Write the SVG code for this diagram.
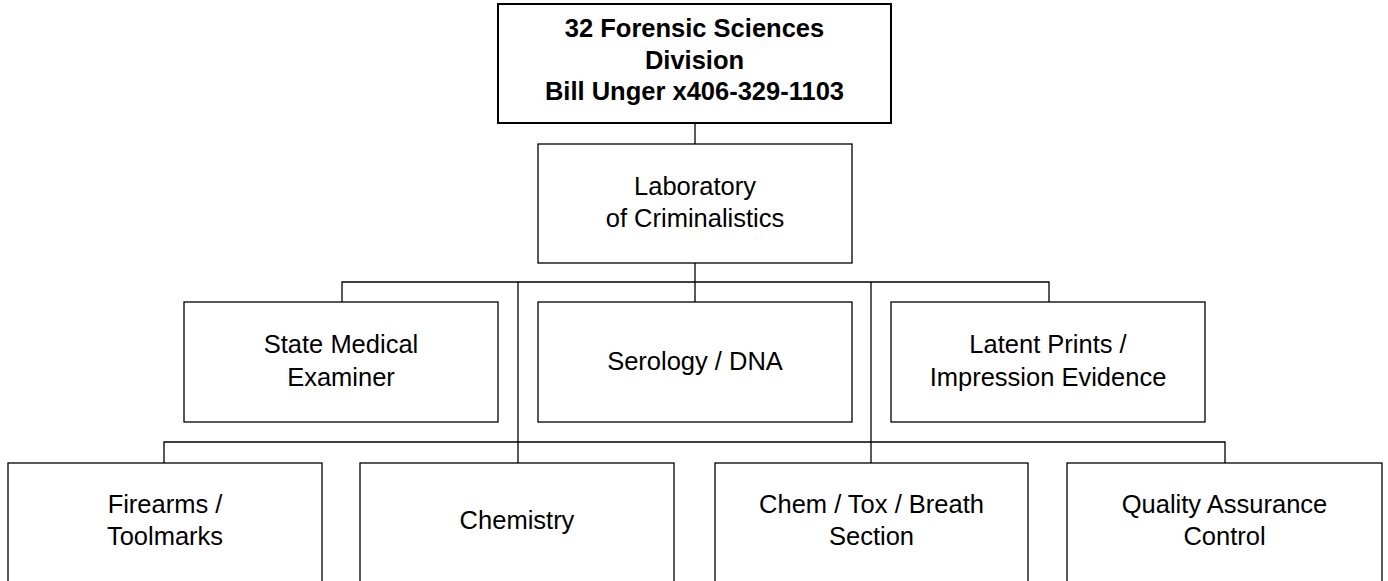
<svg xmlns="http://www.w3.org/2000/svg" width="1388" height="581" viewBox="0 0 1388 581">
<style>
.box{fill:#fff;stroke:#000;stroke-width:1.3}
.top{fill:#fff;stroke:#000;stroke-width:2}
.t{font-family:"Liberation Sans",Arial,sans-serif;font-size:25.5px;fill:#000;text-anchor:middle}
.b{font-weight:bold}
.c{fill:none;stroke:#000;stroke-width:1.3}
</style>
<rect width="1388" height="581" fill="#fff"/>
<g id="connectors">
<path class="c" d="M695,123V144"/>
<path class="c" d="M695,263V302"/>
<path class="c" d="M342,302V282H1049V302"/>
<path class="c" d="M518,282V463"/>
<path class="c" d="M871,282V463"/>
<path class="c" d="M164,463V442H1225V463"/>
</g>
<g id="division">
<rect class="top" x="498" y="4" width="393" height="119"/>
<text class="t b" x="694.5" y="37">32 Forensic Sciences</text>
<text class="t b" x="694.5" y="69">Division</text>
<text class="t b" x="694.5" y="100">Bill Unger x406-329-1103</text>
</g>
<g id="lab">
<rect class="box" x="538" y="144" width="314" height="119"/>
<text class="t" x="695" y="195">Laboratory</text>
<text class="t" x="695" y="227">of Criminalistics</text>
</g>
<g id="sme">
<rect class="box" x="184" y="302" width="314" height="120"/>
<text class="t" x="341" y="353">State Medical</text>
<text class="t" x="341" y="385.5">Examiner</text>
</g>
<g id="serology">
<rect class="box" x="538" y="302" width="314" height="120"/>
<text class="t" x="695" y="370">Serology / DNA</text>
</g>
<g id="latent">
<rect class="box" x="891" y="302" width="314" height="120"/>
<text class="t" x="1048" y="353">Latent Prints /</text>
<text class="t" x="1048" y="385.5">Impression Evidence</text>
</g>
<g id="firearms">
<rect class="box" x="8" y="463" width="314" height="130"/>
<text class="t" x="165" y="513">Firearms /</text>
<text class="t" x="165" y="545">Toolmarks</text>
</g>
<g id="chemistry">
<rect class="box" x="360" y="463" width="314" height="130"/>
<text class="t" x="517" y="529">Chemistry</text>
</g>
<g id="chemtox">
<rect class="box" x="715" y="463" width="313" height="130"/>
<text class="t" x="871.5" y="513">Chem / Tox / Breath</text>
<text class="t" x="871.5" y="545">Section</text>
</g>
<g id="qa">
<rect class="box" x="1067" y="463" width="315" height="130"/>
<text class="t" x="1224.5" y="513">Quality Assurance</text>
<text class="t" x="1224.5" y="545">Control</text>
</g>
</svg>
